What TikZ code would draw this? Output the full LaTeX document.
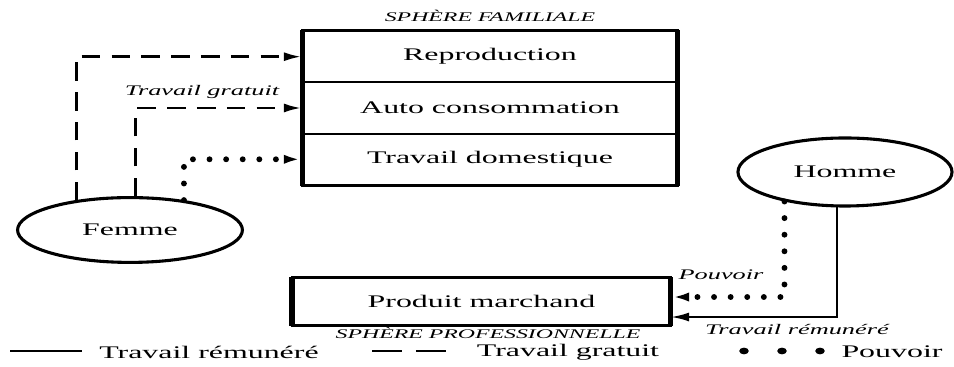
\documentclass[tikz,border=0pt]{standalone}
\usepackage{fontspec}
\setmainfont{Liberation Serif}
\usepackage{graphicx}
\usetikzlibrary{arrows.meta,shapes.geometric}
\tikzset{>={Latex[length=6.5pt,width=3.2pt]}}
\newcommand{\wide}[1]{\scalebox{1.8}[1]{#1}}
\tikzstyle{txt}=[inner sep=0pt,font=\fontsize{6.3}{7.5}\selectfont]
\tikzstyle{row}=[rectangle,draw=black,line width=0.6pt,minimum width=4.675cm,minimum height=0.642cm,inner sep=0pt,font=\fontsize{6.3}{7.5}\selectfont]
\tikzstyle{actor}=[ellipse,draw=black,line width=1.1pt,inner sep=0pt,font=\fontsize{6.3}{7.5}\selectfont]
\tikzstyle{lbl}=[inner sep=0pt,font=\fontsize{5.2}{6}\selectfont\itshape]
\tikzstyle{sphere}=[inner sep=0pt,font=\fontsize{4.7}{5.5}\selectfont\itshape]
\tikzstyle{gratuit}=[line width=1.05pt,dash pattern=on 6.6pt off 4pt,->]
\tikzstyle{pouvoir}=[line width=2.1pt,line cap=round,dash pattern=on 0pt off 5.9pt,->]
\tikzstyle{remunere}=[line width=0.8pt,->]

\begin{document}
\begin{tikzpicture}[x=0.0125cm,y=-0.0125cm]
    \useasboundingbox (0,0) rectangle (954,367);

    % sphere familiale
    \node[sphere] (sfam) at (490,16) {\wide{SPHÈRE FAMILIALE}};
    \node[row] (rep) at (490,56.7) {\wide{Reproduction}};
    \node[row] (auto) at (490,108) {\wide{Auto consommation}};
    \node[row] (dom) at (490,159.3) {\wide{Travail domestique}};
    \draw[line width=1.1pt] (rep.north west) rectangle (dom.south east);
    \draw[line width=1.8pt] (rep.north west) -- (dom.south west);
    \draw[line width=1.8pt] (rep.north east) -- (dom.south east);

    % sphere professionnelle
    \node[row,minimum width=4.71cm,minimum height=0.5875cm] (prod) at (481.5,301.5) {\wide{Produit marchand}};
    \draw[line width=1.1pt] (prod.north west) rectangle (prod.south east);
    \draw[line width=2pt] (prod.north west) -- (prod.south west);
    \draw[line width=1.8pt] (prod.north east) -- (prod.south east);
    \node[sphere] (spro) at (488,333) {\wide{SPHÈRE PROFESSIONNELLE}};

    \node[actor,minimum width=2.81cm,minimum height=0.81cm] (femme) at (130,230) {\wide{Femme}};
    \node[actor,minimum width=2.675cm,minimum height=0.85cm] (homme) at (845,172) {\wide{Homme}};

    \draw[gratuit] (femme.151) |- (rep.west);
    \draw[gratuit] (femme.80) |- (auto.west);
    \draw[pouvoir] (femme.29) |- (dom.west);
    \node[lbl] (lgrat) at (202,92) {\wide{Travail gratuit}};

    \draw[pouvoir] (homme.206) |- ([yshift=0.056cm]prod.east);
    \draw[remunere] (homme.257) |- ([yshift=-0.194cm]prod.east);
    \node[lbl] (lpouv) at (721,275) {\wide{Pouvoir}};
    \node[lbl] (lrem) at (797,330) {\wide{Travail rémunéré}};

    % legende
    \coordinate (k1a) at (10,351);
    \coordinate (k1b) at (82,351);
    \draw[line width=0.7pt] (k1a) -- (k1b);
    \node[txt] (k1) at (209,352) {\wide{Travail rémunéré}};
    \coordinate (k2a) at (372,351);
    \coordinate (k2b) at (448,351);
    \draw[line width=0.7pt,dash pattern=on 10.6pt off 5pt] (k2a) -- (k2b);
    \node[txt] (k2) at (568,352) {\wide{Travail gratuit}};
    \foreach \x in {744,782,820}
        \fill (\x,351) ellipse (1.7pt and 1.2pt);
    \node[txt] (k3) at (892,352) {\wide{Pouvoir}};
\end{tikzpicture}
\end{document}
